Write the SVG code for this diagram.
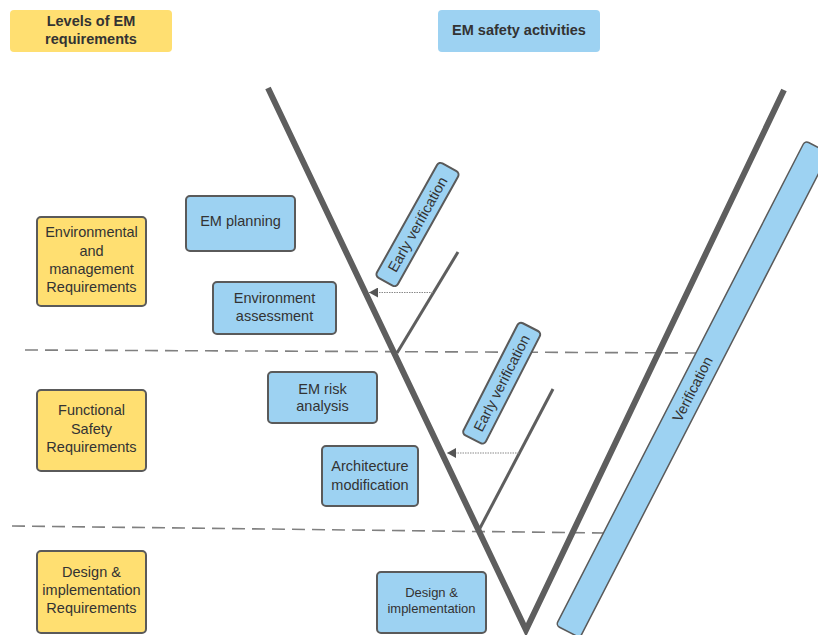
<svg xmlns="http://www.w3.org/2000/svg" width="818" height="635" viewBox="0 0 818 635">
  <defs>
    <style>
      .txt { font-family: "Liberation Sans", Arial, sans-serif; fill: #333; text-anchor: middle; dominant-baseline: central; }
      .t15 { font-size: 14.5px; }
      .t13 { font-size: 13px; }
      .hdr { font-size: 14.5px; font-weight: bold; }
      .yel { fill: #ffdf71; stroke: #5a5a5a; stroke-width: 2; }
      .blu { fill: #9dd2f2; stroke: #5a5a5a; stroke-width: 2; }
      .yelh { fill: #ffdf71; }
      .bluh { fill: #9dd2f2; }
      .vline { stroke: #5e5e5e; stroke-width: 6; fill: none; }
      .branch { stroke: #5e5e5e; stroke-width: 3; fill: none; }
      .dash { stroke: #808080; stroke-width: 1.6; stroke-dasharray: 13 7; fill: none; }
      .dot { stroke: #8a8a8a; stroke-width: 1.2; stroke-dasharray: 1.5 1; fill: none; }
    </style>
    <marker id="arrowL" markerWidth="10" markerHeight="10" refX="9" refY="5" orient="auto" markerUnits="userSpaceOnUse">
      <path d="M0,0 L9,5 L0,10 Z" fill="#555"/>
    </marker>
  </defs>

  <rect width="818" height="635" fill="#fff"/>

  <!-- level separators, V shape, branches and verification arrows -->
  <g id="connectors">
    <line class="dash" x1="25" y1="350" x2="700" y2="353"/>
    <line class="dash" x1="12" y1="526" x2="605" y2="533"/>
    <polyline class="vline" points="268,88 526,630 784,90" stroke-linejoin="miter"/>
    <line class="branch" x1="458" y1="252" x2="397" y2="353"/>
    <line class="branch" x1="553" y1="389" x2="479" y2="530"/>
    <line class="dot" x1="433" y1="292.5" x2="369" y2="292.5" marker-end="url(#arrowL)"/>
    <line class="dot" x1="519" y1="453" x2="447" y2="453" marker-end="url(#arrowL)"/>
  </g>

  <!-- column headers -->
  <g id="hdr-levels">
    <rect class="yelh" x="10" y="10" width="162" height="42" rx="4"/>
    <text class="txt hdr" x="91" y="21">Levels of EM</text>
    <text class="txt hdr" x="91" y="38.5">requirements</text>
  </g>
  <g id="hdr-activities">
    <rect class="bluh" x="438" y="10" width="162" height="42" rx="4"/>
    <text class="txt hdr" x="519" y="30">EM safety activities</text>
  </g>

  <!-- requirement levels -->
  <g id="lvl-env">
    <rect class="yel" x="37" y="217" width="109" height="89" rx="4"/>
    <text class="txt t15" x="91.5" y="232">Environmental</text>
    <text class="txt t15" x="91.5" y="250.5">and</text>
    <text class="txt t15" x="91.5" y="268.5">management</text>
    <text class="txt t15" x="91.5" y="287">Requirements</text>
  </g>
  <g id="lvl-func">
    <rect class="yel" x="37" y="390" width="109" height="81" rx="4"/>
    <text class="txt t15" x="91.5" y="410">Functional</text>
    <text class="txt t15" x="91.5" y="428.5">Safety</text>
    <text class="txt t15" x="91.5" y="447">Requirements</text>
  </g>
  <g id="lvl-design">
    <rect class="yel" x="37" y="551" width="109" height="82" rx="4"/>
    <text class="txt t15" x="91.5" y="572">Design &amp;</text>
    <text class="txt t15" x="91.5" y="590">implementation</text>
    <text class="txt t15" x="91.5" y="608">Requirements</text>
  </g>

  <!-- safety activities -->
  <g id="act-planning">
    <rect class="blu" x="186" y="196" width="109" height="55" rx="4"/>
    <text class="txt t15" x="240.5" y="221">EM planning</text>
  </g>
  <g id="act-env-assessment">
    <rect class="blu" x="213" y="282" width="123" height="52" rx="4"/>
    <text class="txt t15" x="274.5" y="297.5">Environment</text>
    <text class="txt t15" x="274.5" y="316">assessment</text>
  </g>
  <g id="act-risk">
    <rect class="blu" x="268" y="372" width="109" height="51" rx="4"/>
    <text class="txt t15" x="322.5" y="388.5">EM risk</text>
    <text class="txt t15" x="322.5" y="406">analysis</text>
  </g>
  <g id="act-architecture">
    <rect class="blu" x="322" y="446" width="96" height="60" rx="4"/>
    <text class="txt t15" x="370" y="466">Architecture</text>
    <text class="txt t15" x="370" y="484.5">modification</text>
  </g>
  <g id="act-design">
    <rect class="blu" x="377" y="572" width="109" height="61" rx="4"/>
    <text class="txt t13" x="431.5" y="592.5">Design &amp;</text>
    <text class="txt t13" x="431.5" y="608.5">implementation</text>
  </g>

  <!-- verification labels along the V -->
  <g id="early-verif-1" transform="translate(417.5,224.5) rotate(-60.8)">
    <rect class="blu" x="-65.5" y="-12" width="131" height="24" rx="4"/>
    <text class="txt t15" x="0" y="0">Early verification</text>
  </g>
  <g id="early-verif-2" transform="translate(501.7,383.2) rotate(-62.9)">
    <rect class="blu" x="-63" y="-12.5" width="126" height="25" rx="4"/>
    <text class="txt t15" x="0" y="0">Early verification</text>
  </g>
  <g id="verification" transform="translate(692.5,389.2) rotate(-62.8)">
    <rect class="blu" x="-272.5" y="-13.5" width="545" height="27" rx="4" style="stroke-width:1.5"/>
    <text class="txt t15" x="0" y="0">Verification</text>
  </g>
</svg>
